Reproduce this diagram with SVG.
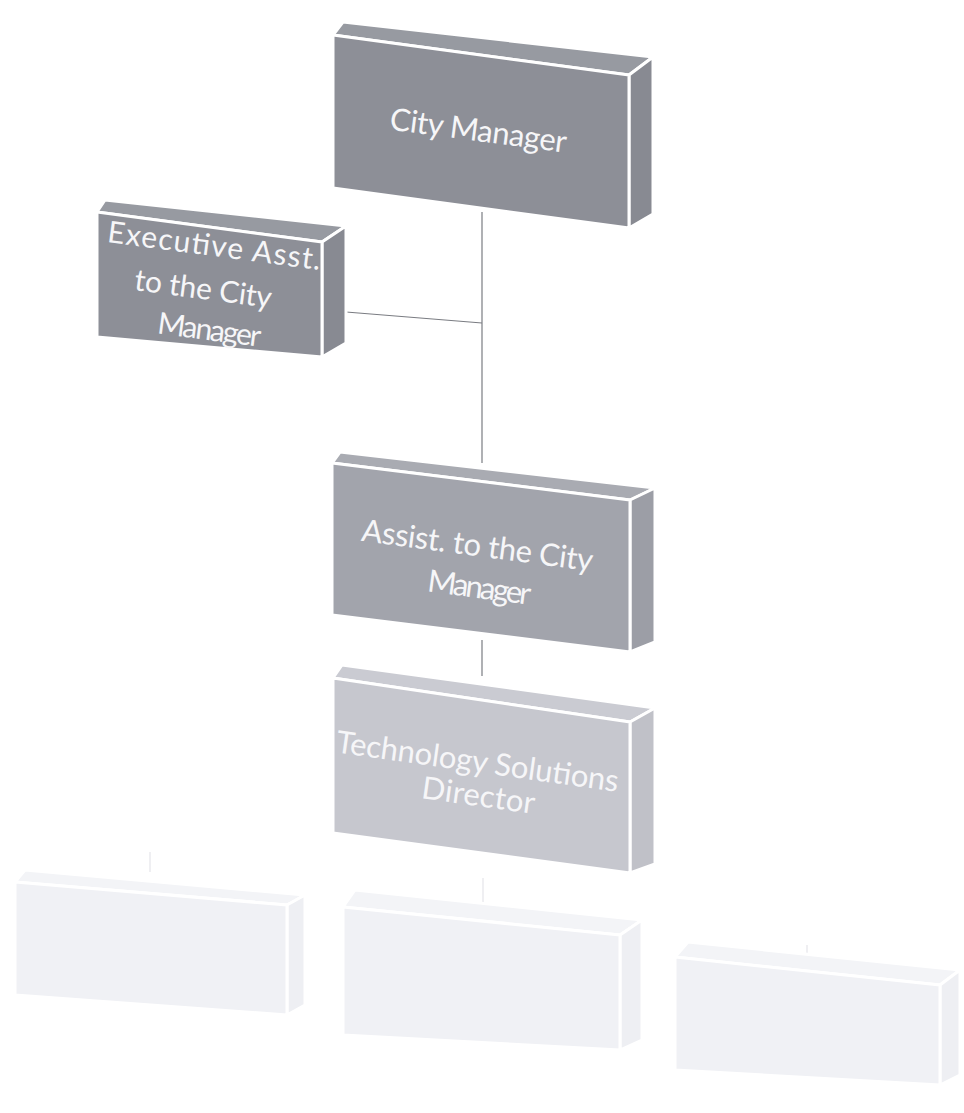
<svg xmlns="http://www.w3.org/2000/svg" width="964" height="1113" viewBox="0 0 964 1113">
  <style>
    .edge { stroke: #ffffff; stroke-width: 3; stroke-linejoin: round; }
    .dark .front { fill: #8d8f97; }
    .dark .top { fill: #979aa1; }
    .dark .side { fill: #888a92; }
    .mid .front { fill: #a2a4ac; }
    .mid .top { fill: #a9abb2; }
    .mid .side { fill: #9c9ea6; }
    .light .front { fill: #c6c7ce; }
    .light .top { fill: #cacbd2; }
    .light .side { fill: #c0c1c8; }
    .faint .front { fill: #f0f1f5; }
    .faint .top { fill: #f3f4f7; }
    .faint .side { fill: #eeeff3; }
    .label { font-family: "Lato", "Open Sans", sans-serif; fill: #f6f6f8; text-anchor: middle; }
    .link { stroke: #7a7c82; stroke-width: 1.2; fill: none; }
    .link-faint { stroke: #e4e5ea; stroke-width: 1.2; fill: none; }
  </style>

  <rect width="964" height="1113" fill="#ffffff"/>

  <!-- reporting lines -->
  <g id="connectors">
    <line class="link" x1="482" y1="212" x2="482" y2="463"/>
    <line class="link" x1="346" y1="312" x2="482" y2="323"/>
    <line class="link" x1="482" y1="640" x2="482" y2="676"/>
    <line class="link-faint" x1="150" y1="852" x2="150" y2="872"/>
    <line class="link-faint" x1="483" y1="878" x2="483" y2="914"/>
    <line class="link-faint" x1="807" y1="945" x2="807" y2="966"/>
  </g>

  <!-- City Manager -->
  <g id="city-manager" class="dark">
    <polygon class="top edge" points="343,22 653,57 629,75 333,35"/>
    <polygon class="side edge" points="629,75 653,57 653,214 629,228"/>
    <polygon class="front edge" points="333,35 629,75 629,228 333,188"/>
    <text class="label" font-size="31" x="477" y="141" textLength="178" transform="rotate(7.5 477 141)">City Manager</text>
  </g>

  <!-- Executive Assistant -->
  <g id="executive-asst" class="dark">
    <polygon class="top edge" points="105,200 346,226 322,242 97,212"/>
    <polygon class="side edge" points="322,242 346,226 346,343 322,357"/>
    <polygon class="front edge" points="97,212 322,242 322,357 97,337"/>
    <text class="label" font-size="30" x="213" y="256" textLength="215" transform="rotate(7.5 213 256)">Executive Asst.</text>
    <text class="label" font-size="30" x="202" y="299" textLength="138" transform="rotate(7.5 202 299)">to the City</text>
    <text class="label" font-size="30" x="208" y="340" textLength="104" transform="rotate(7.5 208 340)">Manager</text>
  </g>

  <!-- Assistant to the City Manager -->
  <g id="assist-city-manager" class="mid">
    <polygon class="top edge" points="340,452 655,488 630,500 332,463"/>
    <polygon class="side edge" points="630,500 655,488 655,642 630,652"/>
    <polygon class="front edge" points="332,463 630,500 630,652 332,615"/>
    <text class="label" font-size="31" x="476" y="556" textLength="233" transform="rotate(7.5 476 556)">Assist. to the City</text>
    <text class="label" font-size="31" x="478" y="598" textLength="104" transform="rotate(7.5 478 598)">Manager</text>
  </g>

  <!-- Technology Solutions Director -->
  <g id="tech-solutions-director" class="light">
    <polygon class="top edge" points="342,665 655,708 630,722 333,678"/>
    <polygon class="side edge" points="630,722 655,708 655,864 630,873"/>
    <polygon class="front edge" points="333,678 630,722 630,873 333,833"/>
    <text class="label" font-size="31" x="476" y="772" textLength="285" transform="rotate(8 476 772)">Technology Solutions</text>
    <text class="label" font-size="31" x="477" y="806" textLength="114" transform="rotate(8 477 806)">Director</text>
  </g>

  <!-- lower tier (washed out) -->
  <g id="lower-left" class="faint">
    <polygon class="top edge" points="25,870 305,895 287,905 15,882"/>
    <polygon class="side edge" points="287,905 305,895 305,1005 287,1015"/>
    <polygon class="front edge" points="15,882 287,905 287,1015 15,995"/>
  </g>
  <g id="lower-middle" class="faint">
    <polygon class="top edge" points="355,890 642,920 620,935 343,907"/>
    <polygon class="side edge" points="620,935 642,920 642,1040 620,1050"/>
    <polygon class="front edge" points="343,907 620,935 620,1050 343,1035"/>
  </g>
  <g id="lower-right" class="faint">
    <polygon class="top edge" points="688,942 960,970 940,985 675,957"/>
    <polygon class="side edge" points="940,985 960,970 960,1075 940,1085"/>
    <polygon class="front edge" points="675,957 940,985 940,1085 675,1070"/>
  </g>
</svg>
